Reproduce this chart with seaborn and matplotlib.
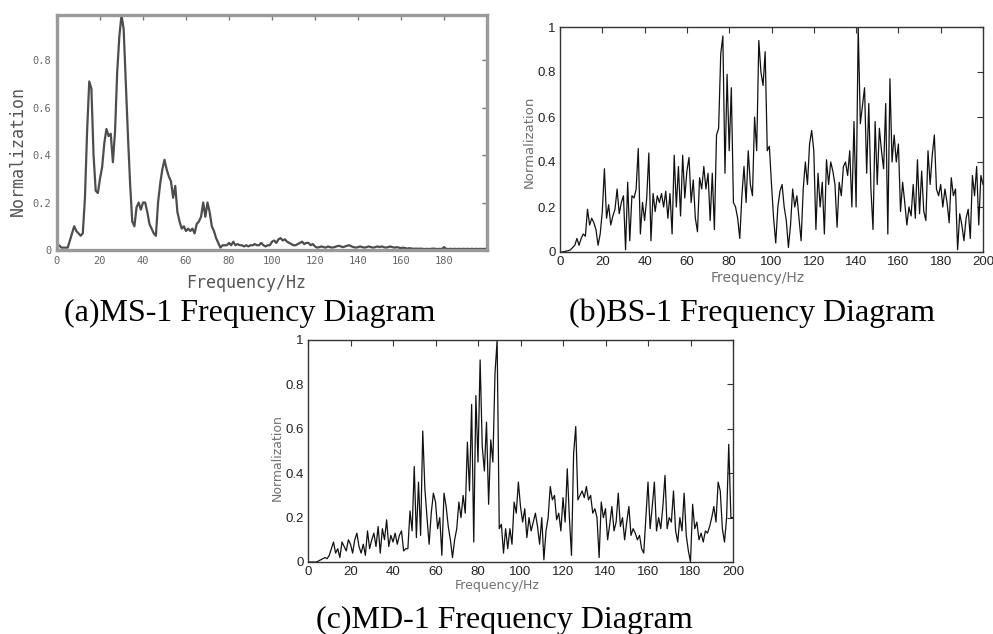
import numpy as np
import pandas as pd
import matplotlib
matplotlib.use("Agg")
import matplotlib.pyplot as plt
import seaborn as sns

# ---------------- data (normalized spectra, 1 Hz steps, 0..200 Hz) ----------------
ms1_values = [
    0.02, 0.02, 0.01, 0.01, 0.01, 0.01, 0.04, 0.07, 0.10, 0.08,
    0.07, 0.06, 0.07, 0.22, 0.50, 0.71, 0.68, 0.40, 0.25, 0.24,
    0.30, 0.35, 0.45, 0.51, 0.48, 0.49, 0.37, 0.50, 0.75, 0.90,
    0.99, 0.93, 0.70, 0.48, 0.28, 0.12, 0.10, 0.18, 0.20, 0.17,
    0.20, 0.20, 0.16, 0.11, 0.09, 0.07, 0.06, 0.20, 0.28, 0.34,
    0.38, 0.34, 0.31, 0.29, 0.22, 0.27, 0.16, 0.12, 0.09, 0.10,
    0.08, 0.09, 0.08, 0.09, 0.07, 0.11, 0.12, 0.14, 0.20, 0.14,
    0.20, 0.16, 0.10, 0.08, 0.05, 0.03, 0.01, 0.02, 0.02, 0.02,
    0.03, 0.02, 0.035, 0.02, 0.025, 0.02, 0.02, 0.015, 0.02, 0.015,
    0.02, 0.02, 0.025, 0.02, 0.02, 0.03, 0.02, 0.015, 0.02, 0.02,
    0.035, 0.04, 0.03, 0.045, 0.05, 0.04, 0.045, 0.035, 0.03, 0.025,
    0.02, 0.02, 0.025, 0.03, 0.035, 0.025, 0.03, 0.03, 0.02, 0.025,
    0.015, 0.01, 0.012, 0.015, 0.012, 0.01, 0.015, 0.012, 0.01, 0.012,
    0.015, 0.018, 0.015, 0.012, 0.015, 0.018, 0.02, 0.015, 0.012, 0.01,
    0.012, 0.015, 0.012, 0.01, 0.012, 0.015, 0.012, 0.01, 0.012, 0.015,
    0.012, 0.015, 0.012, 0.01, 0.012, 0.015, 0.012, 0.01, 0.012, 0.01,
    0.008, 0.01, 0.008, 0.006, 0.008, 0.006, 0.005, 0.006, 0.005, 0.006,
    0.005, 0.004, 0.005, 0.004, 0.005, 0.006, 0.005, 0.004, 0.005, 0.004,
    0.012, 0.005, 0.004, 0.005, 0.004, 0.005, 0.004, 0.005, 0.004, 0.005,
    0.004, 0.005, 0.004, 0.005, 0.004, 0.005, 0.004, 0.005, 0.004, 0.005,
    0.004,
]

bs1_values = [
    0.0, 0.0, 0.002, 0.004, 0.006, 0.01, 0.02, 0.03, 0.06, 0.03,
    0.06, 0.08, 0.07, 0.19, 0.12, 0.15, 0.13, 0.10, 0.03, 0.08,
    0.18, 0.37, 0.15, 0.21, 0.12, 0.16, 0.19, 0.28, 0.17, 0.22,
    0.25, 0.01, 0.31, 0.05, 0.25, 0.24, 0.28, 0.46, 0.08, 0.22,
    0.14, 0.24, 0.44, 0.05, 0.26, 0.18, 0.25, 0.22, 0.26, 0.20,
    0.27, 0.15, 0.26, 0.08, 0.43, 0.20, 0.38, 0.16, 0.43, 0.24,
    0.36, 0.42, 0.22, 0.32, 0.15, 0.09, 0.33, 0.28, 0.38, 0.28,
    0.35, 0.14, 0.35, 0.10, 0.52, 0.55, 0.88, 0.96, 0.35, 0.79,
    0.45, 0.73, 0.22, 0.20, 0.15, 0.06, 0.25, 0.38, 0.22, 0.45,
    0.30, 0.25, 0.60, 0.45, 0.94, 0.80, 0.74, 0.89, 0.45, 0.47,
    0.30, 0.15, 0.04, 0.20, 0.27, 0.30, 0.20, 0.14, 0.02, 0.12,
    0.28, 0.20, 0.25, 0.15, 0.05, 0.28, 0.40, 0.30, 0.48, 0.54,
    0.45, 0.10, 0.35, 0.20, 0.31, 0.08, 0.41, 0.30, 0.40, 0.36,
    0.30, 0.11, 0.31, 0.25, 0.38, 0.40, 0.34, 0.45, 0.20, 0.58,
    0.20, 1.00, 0.57, 0.65, 0.73, 0.35, 0.66, 0.28, 0.10, 0.58,
    0.30, 0.55, 0.45, 0.37, 0.66, 0.08, 0.77, 0.40, 0.52, 0.40,
    0.48, 0.18, 0.31, 0.22, 0.12, 0.20, 0.16, 0.30, 0.15, 0.41,
    0.17, 0.36, 0.18, 0.14, 0.45, 0.30, 0.43, 0.52, 0.28, 0.25,
    0.30, 0.20, 0.28, 0.22, 0.13, 0.33, 0.25, 0.28, 0.01, 0.17,
    0.12, 0.05, 0.15, 0.19, 0.06, 0.34, 0.25, 0.38, 0.12, 0.34,
    0.30,
]

md1_values = [
    0.0, 0.0, 0.0, 0.0, 0.0, 0.005, 0.01, 0.015, 0.02, 0.015,
    0.03, 0.06, 0.09, 0.04, 0.06, 0.02, 0.09, 0.07, 0.05, 0.10,
    0.08, 0.04, 0.10, 0.13, 0.07, 0.04, 0.08, 0.03, 0.14, 0.06,
    0.10, 0.13, 0.07, 0.16, 0.04, 0.15, 0.10, 0.19, 0.07, 0.12,
    0.09, 0.13, 0.08, 0.12, 0.14, 0.05, 0.06, 0.06, 0.23, 0.14,
    0.43, 0.11, 0.36, 0.12, 0.59, 0.33, 0.20, 0.08, 0.22, 0.31,
    0.27, 0.15, 0.20, 0.03, 0.31, 0.25, 0.16, 0.10, 0.02, 0.10,
    0.15, 0.27, 0.20, 0.30, 0.22, 0.54, 0.32, 0.71, 0.09, 0.75,
    0.45, 0.91, 0.52, 0.41, 0.63, 0.26, 0.55, 0.45, 0.85, 1.00,
    0.15, 0.17, 0.04, 0.15, 0.06, 0.15, 0.08, 0.27, 0.22, 0.36,
    0.25, 0.18, 0.24, 0.11, 0.20, 0.14, 0.18, 0.22, 0.16, 0.08,
    0.20, 0.01, 0.14, 0.20, 0.34, 0.28, 0.30, 0.19, 0.22, 0.14,
    0.29, 0.18, 0.42, 0.20, 0.03, 0.49, 0.61, 0.28, 0.30, 0.32,
    0.29, 0.34, 0.28, 0.30, 0.22, 0.24, 0.20, 0.02, 0.27, 0.20,
    0.24, 0.10, 0.17, 0.25, 0.14, 0.18, 0.31, 0.16, 0.20, 0.10,
    0.18, 0.25, 0.12, 0.15, 0.13, 0.10, 0.12, 0.06, 0.04, 0.20,
    0.36, 0.15, 0.25, 0.36, 0.14, 0.20, 0.15, 0.25, 0.39, 0.15,
    0.20, 0.18, 0.32, 0.14, 0.09, 0.20, 0.14, 0.31, 0.12, 0.05,
    0.00, 0.26, 0.15, 0.18, 0.10, 0.13, 0.09, 0.14, 0.13, 0.16,
    0.20, 0.25, 0.18, 0.36, 0.32, 0.15, 0.09, 0.20, 0.53, 0.20,
    0.20,
]

ms1_freq = np.arange(len(ms1_values))
bs1_freq = np.arange(len(bs1_values))
md1_freq = np.arange(len(md1_values))

captions = ["(a)MS-1 Frequency Diagram", "(b)BS-1 Frequency Diagram",
            "(c)MD-1 Frequency Diagram"]
x_label = "Frequency/Hz"
y_label = "Normalization"
a_xticks = [0, 20, 40, 60, 80, 100, 120, 140, 160, 180]
a_yticks = [0, 0.2, 0.4, 0.6, 0.8]
bc_xticks = [0, 20, 40, 60, 80, 100, 120, 140, 160, 180, 200]
bc_yticks = [0, 0.2, 0.4, 0.6, 0.8, 1.0]

# ---------------- figure ----------------
sns.set_style("white")
plt.rcParams["font.family"] = ["DejaVu Sans"]

W, H = 993, 634
fig = plt.figure(figsize=(W / 100, H / 100), dpi=100)


def ax_from_px(l, t, r, b):
    return fig.add_axes([l / W, (H - b) / H, (r - l) / W, (b - t) / H])


def fmt_tick(v):
    s = f"{v:g}"
    return s


# (a)
ax_a = ax_from_px(57, 15, 487, 250)
df_a = pd.DataFrame({"f": ms1_freq, "v": ms1_values})
sns.lineplot(data=df_a, x="f", y="v", ax=ax_a, color="#4d4d4d", linewidth=1.6,
             estimator=None)
ax_a.set_xlim(0, 200)
ax_a.set_ylim(0, 0.99)
ax_a.set_xticks(a_xticks)
ax_a.set_yticks(a_yticks)
ax_a.set_xticklabels([fmt_tick(v) for v in a_xticks])
ax_a.set_yticklabels([fmt_tick(v) for v in a_yticks])
for lab in ax_a.get_xticklabels() + ax_a.get_yticklabels():
    lab.set_fontfamily("DejaVu Sans Mono")
    lab.set_fontsize(7.5)
    lab.set_color("#666666")
ax_a.tick_params(direction="in", top=True, right=True, length=3.5, width=1,
                 color="#777777", pad=4)
for sp in ax_a.spines.values():
    sp.set_visible(True)
    sp.set_color("#9a9a9a")
    sp.set_linewidth(2.4)
ax_a.set_xlabel(x_label, fontfamily="DejaVu Sans Mono", fontsize=12, color="#555555")
ax_a.set_ylabel(y_label, fontfamily="DejaVu Sans Mono", fontsize=12, color="#555555")
ax_a.xaxis.set_label_coords(0.44, -0.14)
ax_a.yaxis.set_label_coords(-0.091, 0.42)
ax_a.xaxis.label.set_va("center")
ax_a.yaxis.label.set_va("center")


def style_bc(ax, values, freq, xl_coords, yl_coords, xl_size, yl_size):
    df = pd.DataFrame({"f": freq, "v": values})
    sns.lineplot(data=df, x="f", y="v", ax=ax, color="#111111", linewidth=0.9,
                 estimator=None)
    ax.set_xlim(0, 200)
    ax.set_ylim(0, 1)
    ax.set_xticks(bc_xticks)
    ax.set_yticks(bc_yticks)
    ax.set_xticklabels([fmt_tick(v) for v in bc_xticks])
    ax.set_yticklabels([fmt_tick(v) for v in bc_yticks])
    for lab in ax.get_xticklabels() + ax.get_yticklabels():
        lab.set_fontfamily("Liberation Sans")
        lab.set_fontsize(9.5)
        lab.set_color("#222222")
    ax.tick_params(direction="in", top=True, right=True, length=4, width=0.8,
                   color="#333333", pad=3)
    for sp in ax.spines.values():
        sp.set_visible(True)
        sp.set_color("#333333")
        sp.set_linewidth(1.0)
    ax.set_xlabel(x_label, fontsize=xl_size, color="#707070")
    ax.set_ylabel(y_label, fontsize=yl_size, color="#707070")
    ax.xaxis.set_label_coords(*xl_coords)
    ax.yaxis.set_label_coords(*yl_coords)
    ax.xaxis.label.set_va("center")
    ax.yaxis.label.set_va("center")


ax_b = ax_from_px(560, 27, 983, 252)
style_bc(ax_b, bs1_values, bs1_freq, (0.468, -0.116), (-0.073, 0.49), 10, 9.5)

ax_c = ax_from_px(308, 340, 733, 562)
style_bc(ax_c, md1_values, md1_freq, (0.445, -0.108), (-0.073, 0.47), 9, 9)

# captions
cap_kw = dict(ha="center", va="baseline", fontfamily="Liberation Serif",
              fontsize=23, color="black")
fig.text(250 / W, (H - 321) / H, captions[0], **cap_kw)
fig.text(752 / W, (H - 321) / H, captions[1], **cap_kw)
fig.text(504 / W, (H - 628) / H, captions[2], **cap_kw)

fig.savefig("out.png", dpi=100)
